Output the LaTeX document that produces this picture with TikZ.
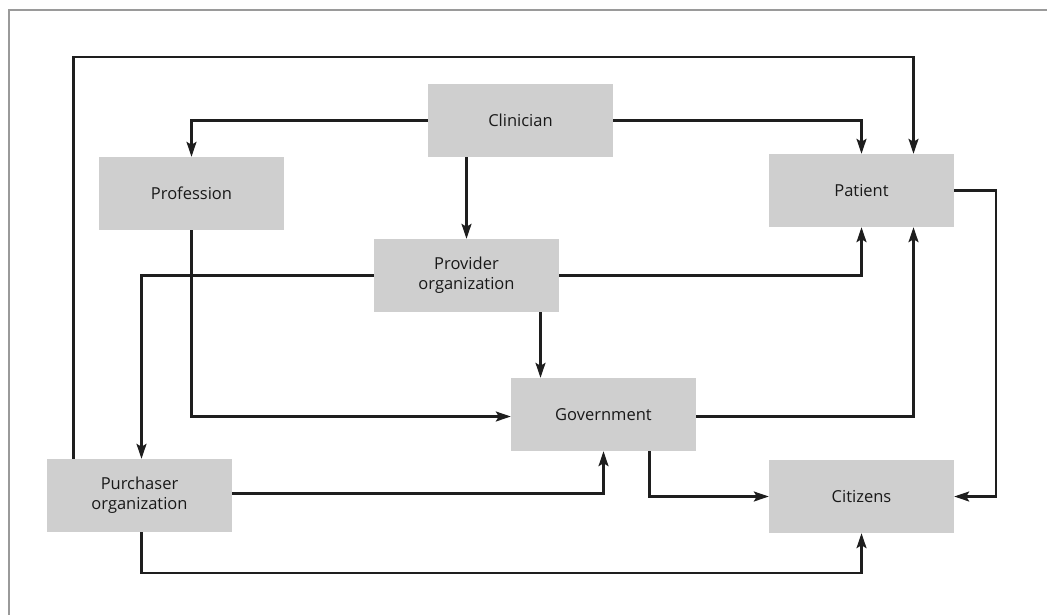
\documentclass[tikz,border=0pt]{standalone}
\usepackage{fontspec}
\setmainfont{Open Sans}
\usetikzlibrary{arrows.meta}
\definecolor{boxgray}{HTML}{CFCFCF}
\definecolor{framegray}{HTML}{9A9A9A}
\definecolor{linedark}{HTML}{1E1E1E}
\begin{document}
\begin{tikzpicture}[x=1pt,y=-1pt,
  box/.style={fill=boxgray, draw=none, minimum width=185pt, minimum height=73pt,
    inner sep=0pt, align=center, font=\fontsize{16.5}{20}\selectfont, text=black!90},
  flow/.style={draw=linedark, line width=2.2pt,
    -{Stealth[length=15pt,width=10pt,inset=3pt]}}]
  \useasboundingbox (0,0) rectangle (1047,614);
  % outer frame (runs past the page on the right and bottom)
  \draw[framegray, line width=2pt] (8.5,620) -- (8.5,9.5) -- (1060,9.5);

  % boxes
  \node[box] (clin)  at (520.5,120.5) {Clinician};
  \node[box] (prof)  at (191.5,193.5) {Profession};
  \node[box] (pat)   at (861.5,190.5) {Patient};
  \node[box] (prov)  at (466.5,275.5) {Provider\\organization};
  \node[box] (gov)   at (603.5,414.5) {Government};
  \node[box] (purch) at (139.5,495.5) {Purchaser\\organization};
  \node[box] (cit)   at (861.5,496.5) {Citizens};

  % connectors
  \draw[flow] (clin.west) -| (prof.north);
  \draw[flow] (clin.east) -| (pat.north);
  \draw[flow] (prov.north |- clin.south) -- (prov.north);
  \coordinate (topline) at (0,57);
  \draw[flow] ([xshift=-66pt]purch.north) |- (topline -| pat.north)
    -| ([xshift=52pt]pat.north);
  \draw[flow] (prov.west) -| ([xshift=2pt]purch.north);
  \draw[flow] (prov.east) -| (pat.south);
  \draw[flow] ([xshift=74pt]prov.south) -- ([xshift=-63pt]gov.north);
  \draw[flow] (prof.south) |- ([yshift=-2pt]gov.west);
  \draw[flow] ([yshift=-2pt]gov.east) -| ([xshift=52pt]pat.south);
  \draw[flow] (pat.east) -- ++(42,0) |- (cit.east);
  \draw[flow] ([xshift=46pt]gov.south) |- (cit.west);
  \draw[flow] ([yshift=2pt]purch.east) -| (gov.south);
  \draw[flow] ([xshift=2pt]purch.south) -- ++(0,41) -| (cit.south);
\end{tikzpicture}
\end{document}
